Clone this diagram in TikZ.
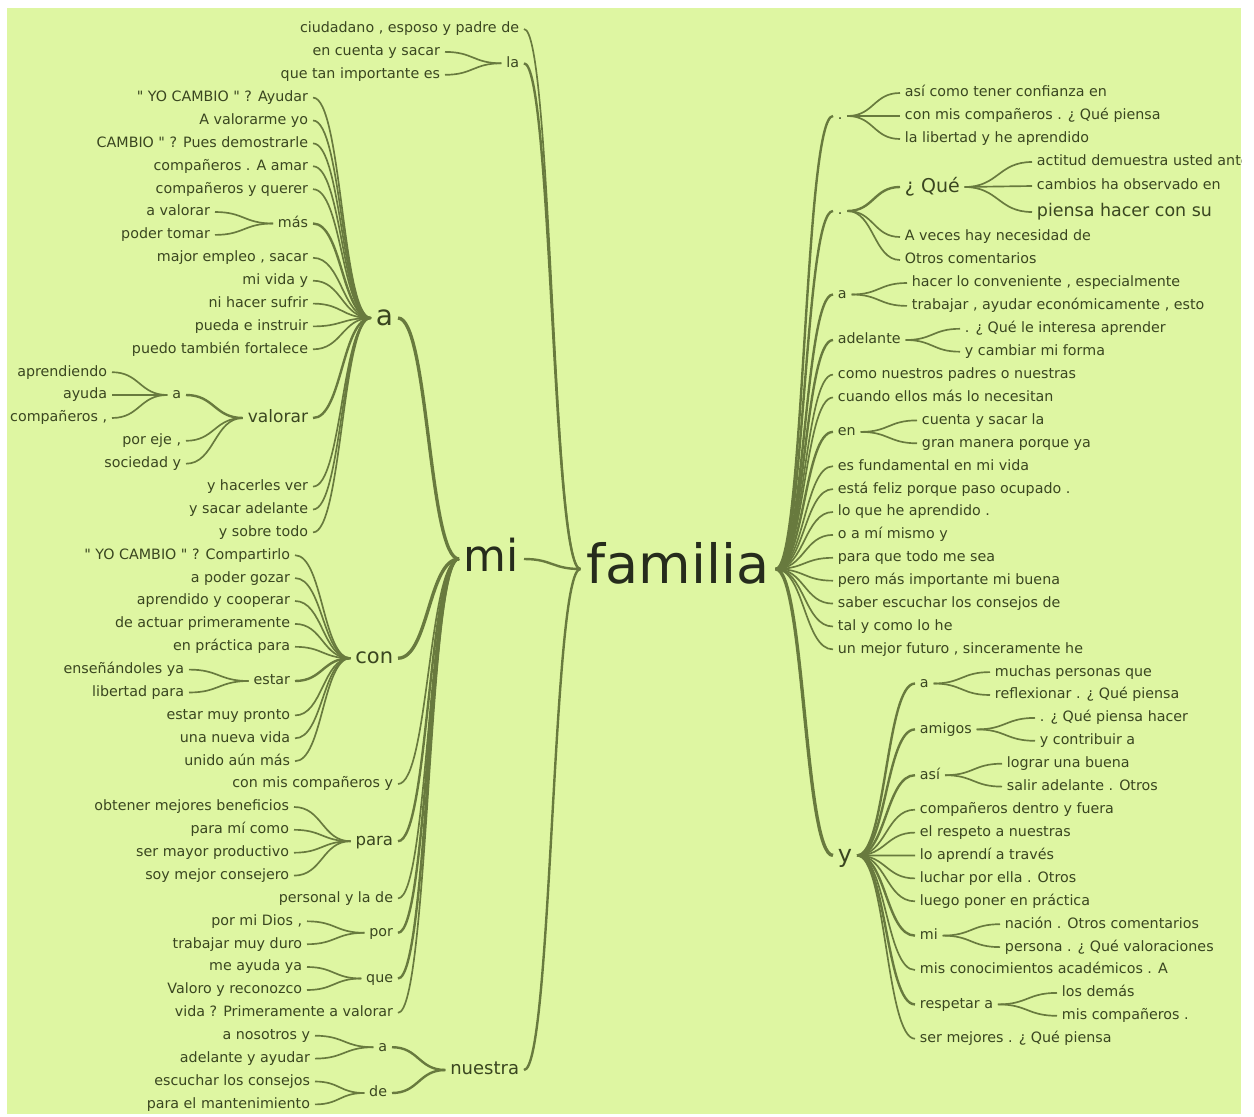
\documentclass[tikz,border=0pt]{standalone}
\usepackage{fontspec}
\setmainfont{DejaVu Sans}[Ligatures=TeXOff]
\usetikzlibrary{calc}
\definecolor{bg}{RGB}{222,246,162}
\definecolor{txt}{RGB}{58,70,32}
\definecolor{dk}{RGB}{38,44,28}
\definecolor{ln}{RGB}{104,122,62}
\newcommand\wfs[1]{\fontsize{#1pt}{#1pt}\selectfont}
\tikzset{
  sz/.style={font=\wfs{#1}, text height=0.55*#1pt},
  wd/.style={inner xsep=3.5pt, inner ysep=0pt, text depth=0pt, text=txt, sz=10.7},
  lft/.style={wd, anchor=east},
  rgt/.style={wd, anchor=west},
  wt/.style={to path={let \p1=(\tikztostart), \p2=(\tikztotarget) in .. controls ({0.5*\x1+0.5*\x2},\y1) and ({0.5*\x1+0.5*\x2},\y2) .. (\tikztotarget)}},
  lk/.style={draw=ln, line width=1.25pt, wt},
  lkb/.style={lk, line width=1.8pt},
  lkc/.style={lk, line width=2.5pt},
}
\begin{document}
\begin{tikzpicture}[x=0.75pt,y=-0.75pt]
\useasboundingbox (0,0) rectangle (1254,1117);
\fill[white] (0,0) rectangle (1254,1117);
\fill[bg] (7,8) rectangle (1241,1114);
\begin{scope}
\clip (7,8) rectangle (1241,1114);
% root
\node[wd, sz=40.5, text=dk, inner xsep=4.5pt] (fam) at (678,569) {familia};
% ---------------- LEFT SIDE ----------------
\node[lft] (ciud) at (524,29) {ciudadano , esposo y padre de};
\node[lft] (la) at (524,63.3) {la};
\node[lft, sz=33, text=dk] (mi) at (524,559) {mi};
\node[lft, sz=13.5] (nuestra) at (524,1070) {nuestra};
\draw[lk] (ciud.east) to (fam.west);
\draw[lkb] (la.east) to (fam.west);
\draw[lkb] (mi.east) to (fam.west);
\draw[lkb] (nuestra.east) to (fam.west);
% la
\node[lft] (la1) at (445,51.9) {en cuenta y sacar};
\node[lft] (la2) at (445,74.8) {que tan importante es};
\draw[lk] (la1.east) to (la.west);
\draw[lk] (la2.east) to (la.west);
% mi children
\node[lft, sz=21] (A) at (398,318) {a};
\node[lft, sz=15.75] (con) at (398,658.2) {con};
\node[lft] (m3) at (398,784) {con mis compañeros y};
\node[lft, sz=12.4] (para) at (398,841.2) {para};
\node[lft] (m5) at (398,898.4) {personal y la de};
\node[lft] (por) at (398,932.8) {por};
\node[lft] (que) at (398,978.5) {que};
\node[lft] (m8) at (398,1012.8) {vida ? Primeramente a valorar};
\draw[lkc] (A.east) to (mi.west);
\draw[lkc] (con.east) to (mi.west);
\draw[lk] (m3.east) to (mi.west);
\draw[lkb] (para.east) to (mi.west);
\draw[lk] (m5.east) to (mi.west);
\draw[lkb] (por.east) to (mi.west);
\draw[lkb] (que.east) to (mi.west);
\draw[lk] (m8.east) to (mi.west);
% a children
\node[lft] (A1) at (313,97.6) {" YO CAMBIO " ? Ayudar};
\node[lft] (A2) at (313,120.5) {A valorarme yo};
\node[lft] (A3) at (313,143.4) {CAMBIO " ? Pues demostrarle};
\node[lft] (A4) at (313,166.3) {compañeros . A amar};
\node[lft] (A5) at (313,189.2) {compañeros y querer};
\node[lft] (mas) at (313,223.5) {más};
\node[lft] (A7) at (313,257.8) {major empleo , sacar};
\node[lft] (A8) at (313,280.7) {mi vida y};
\node[lft] (A9) at (313,303.6) {ni hacer sufrir};
\node[lft] (A10) at (313,326.4) {pueda e instruir};
\node[lft] (A11) at (313,349.3) {puedo también fortalece};
\node[lft, sz=12.8] (val) at (313,418) {valorar};
\node[lft] (A13) at (313,486.6) {y hacerles ver};
\node[lft] (A14) at (313,509.5) {y sacar adelante};
\node[lft] (A15) at (313,532.4) {y sobre todo};
\foreach \c in {A1,A2,A3,A4,A5,A7,A8,A9,A10,A11,A13,A14,A15}{\draw[lk] (\c.east) to (A.west);}
\draw[lkb] (mas.east) to (A.west);
\draw[lkb] (val.east) to (A.west);
% mas
\node[lft] (mas1) at (215,212) {a valorar};
\node[lft] (mas2) at (215,234.9) {poder tomar};
\draw[lk] (mas1.east) to (mas.west);
\draw[lk] (mas2.east) to (mas.west);
% valorar
\node[lft] (sa) at (186,395) {a};
\node[lft] (v2) at (186,440.8) {por eje ,};
\node[lft] (v3) at (186,463.7) {sociedad y};
\draw[lkb] (sa.east) to (val.west);
\draw[lk] (v2.east) to (val.west);
\draw[lk] (v3.east) to (val.west);
\node[lft] (sa1) at (112,372.2) {aprendiendo};
\node[lft] (sa2) at (112,395) {ayuda};
\node[lft] (sa3) at (112,418) {compañeros ,};
\draw[lk] (sa1.east) to (sa.west);
\draw[lk] (sa2.east) to (sa.west);
\draw[lk] (sa3.east) to (sa.west);
% con
\node[lft] (c1) at (295,555.2) {" YO CAMBIO " ? Compartirlo};
\node[lft] (c2) at (295,578.1) {a poder gozar};
\node[lft] (c3) at (295,601) {aprendido y cooperar};
\node[lft] (c4) at (295,623.9) {de actuar primeramente};
\node[lft] (c5) at (295,646.8) {en práctica para};
\node[lft] (est) at (295,681) {estar};
\node[lft] (c7) at (295,715.4) {estar muy pronto};
\node[lft] (c8) at (295,738.3) {una nueva vida};
\node[lft] (c9) at (295,761.2) {unido aún más};
\foreach \c in {c1,c2,c3,c4,c5,c7,c8,c9}{\draw[lk] (\c.east) to (con.west);}
\draw[lkb] (est.east) to (con.west);
\node[lft] (e1) at (189,669.6) {enseñándoles ya};
\node[lft] (e2) at (189,692.5) {libertad para};
\draw[lk] (e1.east) to (est.west);
\draw[lk] (e2.east) to (est.west);
% para
\node[lft] (p1) at (294,807) {obtener mejores beneficios};
\node[lft] (p2) at (294,829.8) {para mí como};
\node[lft] (p3) at (294,852.7) {ser mayor productivo};
\node[lft] (p4) at (294,875.6) {soy mejor consejero};
\foreach \c in {p1,p2,p3,p4}{\draw[lk] (\c.east) to (para.west);}
% por, que
\node[lft] (po1) at (307,921.3) {por mi Dios ,};
\node[lft] (po2) at (307,944.2) {trabajar muy duro};
\draw[lk] (po1.east) to (por.west);
\draw[lk] (po2.east) to (por.west);
\node[lft] (q1) at (307,967) {me ayuda ya};
\node[lft] (q2) at (307,990) {Valoro y reconozco};
\draw[lk] (q1.east) to (que.west);
\draw[lk] (q2.east) to (que.west);
% nuestra
\node[lft] (na) at (392,1047.2) {a};
\node[lft] (nd) at (392,1093) {de};
\draw[lkb] (na.east) to (nuestra.west);
\draw[lkb] (nd.east) to (nuestra.west);
\node[lft] (na1) at (315,1035.7) {a nosotros y};
\node[lft] (na2) at (315,1058.6) {adelante y ayudar};
\node[lft] (nd1) at (315,1081.5) {escuchar los consejos};
\node[lft] (nd2) at (315,1104.4) {para el mantenimiento};
\draw[lk] (na1.east) to (na.west);
\draw[lk] (na2.east) to (na.west);
\draw[lk] (nd1.east) to (nd.west);
\draw[lk] (nd2.east) to (nd.west);
% ---------------- RIGHT SIDE ----------------
\node[rgt] (d1) at (833,116) {.};
\node[rgt] (d2) at (833,211) {.};
\node[rgt] (ra) at (833,294.5) {a};
\node[rgt] (adel) at (833,340) {adelante};
\node[rgt] (r12) at (833,374.6) {como nuestros padres o nuestras};
\node[rgt] (r13) at (833,397.5) {cuando ellos más lo necesitan};
\node[rgt] (en) at (833,431.9) {en};
\node[rgt] (r16) at (833,466.2) {es fundamental en mi vida};
\node[rgt] (r17) at (833,489.1) {está feliz porque paso ocupado .};
\node[rgt] (r18) at (833,512) {lo que he aprendido .};
\node[rgt] (r19) at (833,534.9) {o a mí mismo y};
\node[rgt] (r20) at (833,557.8) {para que todo me sea};
\node[rgt] (r21) at (833,580.7) {pero más importante mi buena};
\node[rgt] (r22) at (833,603.6) {saber escuchar los consejos de};
\node[rgt] (r23) at (833,626.5) {tal y como lo he};
\node[rgt] (r24) at (833,649.4) {un mejor futuro , sinceramente he};
\node[rgt, sz=18] (yy) at (833,855.4) {y};
\foreach \c in {d1,d2,ra,adel,en}{\draw[lkb] (fam.east) to (\c.west);}
\foreach \c in {r12,r13,r16,r17,r18,r19,r20,r21,r22,r23,r24}{\draw[lk] (fam.east) to (\c.west);}
\draw[lkc] (fam.east) to (yy.west);
% dot 1
\node[rgt] (d1a) at (900,93) {así como tener confianza en};
\node[rgt] (d1b) at (900,116) {con mis compañeros . ¿ Qué piensa};
\node[rgt] (d1c) at (900,139) {la libertad y he aprendido};
\foreach \c in {d1a,d1b,d1c}{\draw[lk] (d1.east) to (\c.west);}
% dot 2
\node[rgt, sz=14.25] (qq) at (900,187) {¿ Qué};
\node[rgt] (d2b) at (900,237) {A veces hay necesidad de};
\node[rgt] (d2c) at (900,260) {Otros comentarios};
\draw[lkb] (d2.east) to (qq.west);
\draw[lk] (d2.east) to (d2b.west);
\draw[lk] (d2.east) to (d2c.west);
\node[rgt] (qq1) at (1032,162) {actitud demuestra usted ante};
\node[rgt] (qq2) at (1032,186) {cambios ha observado en};
\node[rgt, sz=13.1] (qq3) at (1032,212) {piensa hacer con su};
\foreach \c in {qq1,qq2,qq3}{\draw[lk] (qq.east) to (\c.west);}
% a
\node[rgt] (ra1) at (907,283) {hacer lo conveniente , especialmente};
\node[rgt] (ra2) at (907,305.9) {trabajar , ayudar económicamente , esto};
\draw[lk] (ra.east) to (ra1.west);
\draw[lk] (ra.east) to (ra2.west);
% adelante
\node[rgt] (ad1) at (960,328.8) {. ¿ Qué le interesa aprender};
\node[rgt] (ad2) at (960,351.7) {y cambiar mi forma};
\draw[lk] (adel.east) to (ad1.west);
\draw[lk] (adel.east) to (ad2.west);
% en
\node[rgt] (en1) at (917,420.4) {cuenta y sacar la};
\node[rgt] (en2) at (917,443.3) {gran manera porque ya};
\draw[lk] (en.east) to (en1.west);
\draw[lk] (en.east) to (en2.west);
% y
\node[rgt] (ya) at (915,683.5) {a};
\node[rgt] (yam) at (915,729.4) {amigos};
\node[rgt] (yas) at (915,775.2) {así};
\node[rgt] (y31) at (915,809.7) {compañeros dentro y fuera};
\node[rgt] (y32) at (915,832.6) {el respeto a nuestras};
\node[rgt] (y33) at (915,855.5) {lo aprendí a través};
\node[rgt] (y34) at (915,878.4) {luchar por ella . Otros};
\node[rgt] (y35) at (915,901.3) {luego poner en práctica};
\node[rgt] (ymi) at (915,935.6) {mi};
\node[rgt] (y38) at (915,970) {mis conocimientos académicos . A};
\node[rgt] (yre) at (915,1004.4) {respetar a};
\node[rgt] (y41) at (915,1038.7) {ser mejores . ¿ Qué piensa};
\foreach \c in {ya,yam,yas,ymi,yre}{\draw[lkb] (yy.east) to (\c.west);}
\foreach \c in {y31,y32,y33,y34,y35,y38,y41}{\draw[lk] (yy.east) to (\c.west);}
\node[rgt] (ya1) at (990,672.1) {muchas personas que};
\node[rgt] (ya2) at (990,695) {reflexionar . ¿ Qué piensa};
\draw[lk] (ya.east) to (ya1.west);
\draw[lk] (ya.east) to (ya2.west);
\node[rgt] (yam1) at (1035,717.9) {. ¿ Qué piensa hacer};
\node[rgt] (yam2) at (1035,740.8) {y contribuir a};
\draw[lk] (yam.east) to (yam1.west);
\draw[lk] (yam.east) to (yam2.west);
\node[rgt] (yas1) at (1002,763.7) {lograr una buena};
\node[rgt] (yas2) at (1002,786.6) {salir adelante . Otros};
\draw[lk] (yas.east) to (yas1.west);
\draw[lk] (yas.east) to (yas2.west);
\node[rgt] (ymi1) at (1000,924.2) {nación . Otros comentarios};
\node[rgt] (ymi2) at (1000,947.1) {persona . ¿ Qué valoraciones};
\draw[lk] (ymi.east) to (ymi1.west);
\draw[lk] (ymi.east) to (ymi2.west);
\node[rgt] (yre1) at (1057,992.9) {los demás};
\node[rgt] (yre2) at (1057,1015.8) {mis compañeros .};
\draw[lk] (yre.east) to (yre1.west);
\draw[lk] (yre.east) to (yre2.west);
\end{scope}
\end{tikzpicture}
\end{document}
